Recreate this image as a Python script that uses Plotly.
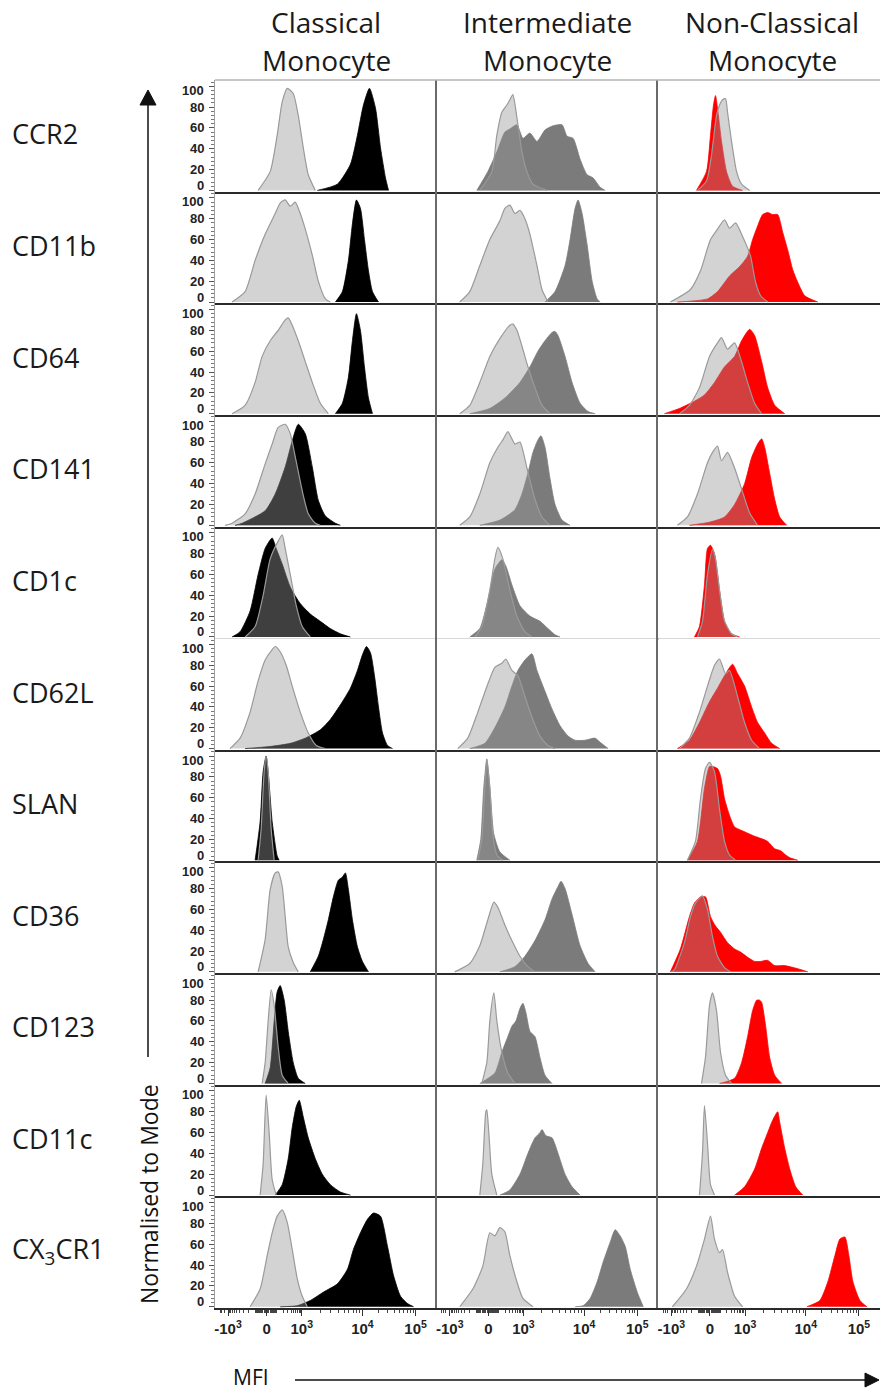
import math
import plotly.graph_objects as go
from plotly.subplots import make_subplots

# ---------------- text / categories ----------------
TITLE_LINE1 = ["Classical", "Intermediate", "Non-Classical"]
TITLE_LINE2 = ["Monocyte", "Monocyte", "Monocyte"]
MARKERS = ["CCR2", "CD11b", "CD64", "CD141", "CD1c", "CD62L", "SLAN",
           "CD36", "CD123", "CD11c", "CX<sub>3</sub>CR1"]
X_TICK_POS = [13, 51.5, 86.5, 147, 200]          # display channel of each label
X_TICK_TEXT = ["-10<sup>3</sup>", "0", "10<sup>3</sup>", "10<sup>4</sup>", "10<sup>5</sup>"]
Y_TICKS = [0, 20, 40, 60, 80, 100]
Y_LABEL = "Normalised to Mode"
X_LABEL = "MFI"

# ---------------- histograms: (display channel, % of mode) ----------------
# CCR2
CCR2_CM = [(102,0),(122,6),(135,25),(142,53),(148,82),(154,98),(160,79),(165,41),(170,12),(173,0)]
CCR2_CM_CTRL = [(43,0),(55,18),(62,53),(67,85),(72,98),(78,93),(83,72),(88,41),(93,15),(100,0)]
CCR2_IM = [(40,0),(51,18),(60,37),(68,56),(73,59),(80,63),(86,50),(93,55),(100,47),(108,58),(116,62),
           (125,63),(130,52),(136,50),(143,30),(150,15),(156,12),(163,3),(168,0)]
CCR2_IM_CTRL = [(43,0),(55,18),(60,53),(65,75),(70,82),(73,87),(76,92),(80,70),(85,37),(90,18),(96,6),(110,0)]
CCR2_NC = [(38,0),(48,18),(52,53),(55,82),(57,91),(59,79),(63,47),(68,18),(74,4),(84,0)]
CCR2_NC_CTRL = [(39,0),(48,9),(53,34),(58,72),(61,82),(64,87),(67,88),(69,75),(73,47),(78,18),(83,6),(91,0)]
# CD11b
CD11B_CM = [(120,0),(127,10),(133,40),(137,75),(141,98),(145,90),(149,60),(153,30),(157,10),(163,0)]
CD11B_CM_CTRL = [(17,0),(30,10),(40,40),(50,65),(60,85),(65,95),(70,98),(75,92),(80,96),(85,85),(90,70),
                 (97,45),(103,20),(110,3),(115,0)]
CD11B_IM = [(108,0),(118,10),(128,35),(133,60),(138,90),(141,98),(145,85),(150,55),(155,20),(160,3),(163,0)]
CD11B_IM_CTRL = [(23,0),(33,10),(43,35),(53,60),(63,78),(68,90),(73,93),(78,85),(83,88),(88,80),(93,65),
                 (100,35),(105,12),(111,0)]
CD11B_NC = [(19,0),(49,3),(59,10),(71,25),(81,34),(89,44),(94,60),(99,73),(104,84),(109,86),(114,84),
            (119,84),(124,67),(129,50),(134,31),(139,19),(146,6),(159,0)]
CD11B_NC_CTRL = [(12,0),(32,12),(42,30),(52,60),(59,70),(66,79),(71,71),(77,76),(84,63),(89,52),(92,44),
                 (97,19),(102,6),(109,0)]
# CD64
CD64_CM = [(120,0),(127,10),(133,35),(137,70),(141,96),(145,80),(149,45),(153,15),(157,0)]
CD64_CM_CTRL = [(17,0),(30,8),(40,30),(47,55),(55,70),(63,80),(70,90),(73,92),(77,85),(83,70),(90,50),
                (97,30),(105,10),(113,0)]
CD64_IM = [(33,0),(53,5),(68,15),(83,30),(93,45),(101,60),(108,70),(115,78),(118,79),(121,75),(128,55),
           (135,30),(143,10),(151,2),(158,0)]
CD64_IM_CTRL = [(23,0),(33,8),(43,30),(53,55),(63,72),(73,85),(76,86),(80,80),(85,65),(91,45),(98,25),
                (105,8),(113,0)]
CD64_NC = [(6,0),(21,5),(36,12),(46,18),(56,30),(66,45),(76,55),(83,70),(91,81),(96,75),(103,50),
           (109,25),(116,8),(126,0)]
CD64_NC_CTRL = [(21,0),(31,8),(41,25),(51,55),(59,68),(63,73),(69,62),(76,68),(83,50),(89,30),(96,10),(103,0)]
# CD141
CD141_CM = [(20,0),(27,2),(50,14),(60,30),(70,56),(77,81),(83,97),(90,88),(97,56),(103,24),(110,9),(120,2),(125,0)]
CD141_CM_CTRL = [(10,0),(17,2),(30,11),(40,30),(50,59),(57,78),(63,94),(70,97),(75,88),(80,66),(87,33),
                 (93,11),(100,2),(105,0)]
CD141_IM = [(43,0),(63,5),(78,15),(85,30),(91,50),(96,70),(101,82),(104,86),(108,75),(113,45),(118,20),(125,5),(133,0)]
CD141_IM_CTRL = [(23,0),(33,8),(43,30),(53,60),(61,75),(66,82),(71,90),(78,78),(83,80),(90,55),(98,25),(105,8),(113,0)]
CD141_NC = [(31,0),(51,3),(66,8),(76,20),(86,40),(93,65),(99,78),(103,83),(106,75),(111,50),(116,25),(121,8),(128,0)]
CD141_NC_CTRL = [(19,0),(29,8),(39,30),(49,60),(54,70),(59,76),(63,62),(69,70),(76,55),(83,35),(91,12),(99,0)]
# CD1c
CD1C_CM = [(17,0),(25,5),(35,25),(43,60),(50,85),(57,95),(61,85),(67,70),(75,48),(85,32),(95,22),(105,15),
           (115,8),(125,3),(135,0)]
CD1C_CM_CTRL = [(30,0),(40,10),(48,40),(55,75),(63,92),(67,98),(70,85),(75,60),(81,30),(87,10),(95,0)]
CD1C_IM = [(33,0),(43,8),(51,35),(58,65),(65,74),(69,68),(75,50),(83,30),(93,20),(103,15),(111,8),(118,2),(123,0)]
CD1C_IM_CTRL = [(38,0),(45,10),(53,45),(58,75),(61,86),(66,75),(73,45),(80,20),(88,5),(95,0)]
CD1C_NC = [(36,0),(41,10),(46,50),(49,85),(52,88),(56,80),(61,45),(66,15),(73,3),(81,0)]
CD1C_NC_CTRL = [(39,0),(44,15),(49,60),(54,84),(57,75),(61,45),(66,15),(73,3),(79,0)]
# CD62L
CD62L_CM = [(30,0),(55,2),(75,5),(90,10),(105,18),(115,28),(125,42),(135,58),(142,75),(147,90),(151,98),
            (155,92),(159,70),(163,40),(167,15),(172,3),(177,0)]
CD62L_CM_CTRL = [(15,0),(25,10),(35,35),(43,65),(50,85),(57,95),(60,98),(65,93),(71,80),(77,60),(85,35),
                 (93,15),(101,3),(110,0)]
CD62L_IM = [(33,0),(48,5),(58,20),(68,40),(75,60),(81,75),(88,85),(95,91),(100,75),(108,55),(115,38),
            (123,22),(131,12),(138,8),(148,8),(158,10),(163,6),(171,0)]
CD62L_IM_CTRL = [(21,0),(31,10),(41,35),(51,62),(58,78),(65,82),(69,86),(75,75),(81,70),(88,50),(95,30),
                 (103,12),(111,3),(118,0)]
CD62L_NC = [(19,0),(31,8),(41,25),(51,45),(59,58),(66,70),(74,81),(79,72),(86,60),(93,40),(99,25),(106,15),(113,5),(121,0)]
CD62L_NC_CTRL = [(21,0),(31,10),(41,35),(49,60),(56,80),(61,86),(67,72),(71,75),(79,50),(86,25),(93,8),(101,0)]
# SLAN
SLAN_CM = [(40,0),(45,37),(48,85),(51,100),(53,85),(57,37),(62,4),(64,0)]
SLAN_CM_CTRL = [(43,0),(46,30),(49,85),(51,100),(53,85),(56,30),(59,0)]
SLAN_IM = [(40,0),(44,20),(47,70),(50,97),(53,70),(57,25),(63,8),(73,0)]
SLAN_IM_CTRL = [(41,0),(45,20),(48,70),(50,97),(53,70),(56,25),(60,5),(66,0)]
SLAN_NC = [(29,0),(39,18),(46,69),(51,90),(54,90),(59,88),(62,81),(66,59),(71,43),(76,32),(82,29),(89,26),
           (96,23),(102,21),(109,18),(116,11),(122,9),(127,5),(132,2),(139,0)]
SLAN_NC_CTRL = [(29,0),(37,18),(42,59),(47,88),(51,94),(56,85),(61,49),(66,18),(71,5),(77,0)]
# CD36
CD36_CM = [(95,0),(103,15),(108,31),(113,50),(118,72),(123,88),(127,91),(130,95),(133,79),(137,50),
           (142,24),(147,10),(153,0)]
CD36_CM_CTRL = [(43,0),(50,31),(55,79),(60,95),(63,96),(67,82),(70,53),(73,24),(78,9),(83,0)]
CD36_IM = [(63,0),(78,5),(88,15),(98,30),(108,50),(115,70),(121,82),(124,87),(128,80),(135,55),(143,25),(151,8),(158,0)]
CD36_IM_CTRL = [(18,0),(33,8),(43,25),(51,50),(57,67),(61,62),(68,45),(75,30),(83,15),(91,5),(98,0)]
CD36_NC = [(12,0),(22,22),(31,53),(36,66),(42,72),(47,72),(52,53),(57,44),(62,38),(69,28),(76,22),(82,19),
           (89,14),(96,10),(102,10),(109,11),(116,6),(126,6),(139,3),(149,0)]
CD36_NC_CTRL = [(13,0),(16,2),(26,28),(32,53),(37,66),(44,73),(49,60),(54,34),(59,15),(66,4),(72,0)]
# CD123
CD123_CM = [(50,0),(55,15),(59,60),(62,88),(65,94),(69,80),(73,50),(78,20),(83,5),(90,0)]
CD123_CM_CTRL = [(47,0),(50,20),(53,60),(56,90),(59,75),(63,35),(67,8),(73,0)]
CD123_IM = [(43,0),(58,10),(65,30),(71,45),(75,55),(79,60),(83,72),(86,77),(89,68),(93,50),(98,45),
            (103,25),(108,8),(115,0)]
CD123_IM_CTRL = [(45,0),(50,20),(53,60),(57,87),(60,60),(65,30),(71,10),(78,0)]
CD123_NC = [(61,0),(76,5),(83,20),(89,45),(94,70),(98,80),(101,80),(103,78),(107,55),(111,25),(116,8),(123,0)]
CD123_NC_CTRL = [(43,0),(47,25),(51,75),(54,87),(58,70),(62,30),(67,8),(73,0)]
# CD11c
CD11C_CM = [(60,0),(67,10),(73,35),(77,65),(81,85),(84,91),(88,75),(93,55),(100,35),(107,20),(115,10),(125,3),(135,0)]
CD11C_CM_CTRL = [(45,0),(48,30),(51,96),(54,60),(57,15),(61,0)]
CD11C_IM = [(63,0),(73,5),(83,20),(91,40),(98,55),(103,60),(105,63),(109,57),(115,55),(121,40),(128,20),(135,8),(143,0)]
CD11C_IM_CTRL = [(43,0),(46,30),(49,80),(50,82),(52,60),(55,20),(60,0)]
CD11C_NC = [(76,0),(86,8),(96,25),(103,45),(109,60),(114,72),(119,80),(121,70),(126,45),(131,25),(137,8),(144,0)]
CD11C_NC_CTRL = [(41,0),(44,40),(46,86),(49,50),(52,10),(56,0)]
# CX3CR1
CX3CR1_CM = [(65,0),(82,1),(95,6),(108,14),(122,22),(132,36),(138,55),(145,71),(152,84),(158,90),(165,87),
             (172,58),(178,30),(185,10),(192,3),(198,0)]
CX3CR1_CM_CTRL = [(35,0),(45,17),(52,49),(57,71),(62,87),(67,93),(72,81),(77,55),(82,27),(87,10),(92,0)]
CX3CR1_IM = [(138,0),(146,1),(153,8),(160,24),(166,43),(173,62),(178,74),(183,68),(188,58),(193,36),(200,14),(206,0)]
CX3CR1_IM_CTRL = [(23,0),(36,17),(46,39),(53,71),(58,68),(63,76),(68,72),(73,49),(80,24),(86,8),(96,0)]
CX3CR1_NC = [(148,0),(161,6),(169,24),(176,49),(181,65),(186,67),(190,49),(194,24),(201,6),(208,0)]
CX3CR1_NC_CTRL = [(14,0),(28,17),(38,39),(46,65),(52,87),(56,65),(61,52),(64,55),(69,33),(76,10),(84,0)]

PANELS = [
    [(CCR2_CM, CCR2_CM_CTRL), (CCR2_IM, CCR2_IM_CTRL), (CCR2_NC, CCR2_NC_CTRL)],
    [(CD11B_CM, CD11B_CM_CTRL), (CD11B_IM, CD11B_IM_CTRL), (CD11B_NC, CD11B_NC_CTRL)],
    [(CD64_CM, CD64_CM_CTRL), (CD64_IM, CD64_IM_CTRL), (CD64_NC, CD64_NC_CTRL)],
    [(CD141_CM, CD141_CM_CTRL), (CD141_IM, CD141_IM_CTRL), (CD141_NC, CD141_NC_CTRL)],
    [(CD1C_CM, CD1C_CM_CTRL), (CD1C_IM, CD1C_IM_CTRL), (CD1C_NC, CD1C_NC_CTRL)],
    [(CD62L_CM, CD62L_CM_CTRL), (CD62L_IM, CD62L_IM_CTRL), (CD62L_NC, CD62L_NC_CTRL)],
    [(SLAN_CM, SLAN_CM_CTRL), (SLAN_IM, SLAN_IM_CTRL), (SLAN_NC, SLAN_NC_CTRL)],
    [(CD36_CM, CD36_CM_CTRL), (CD36_IM, CD36_IM_CTRL), (CD36_NC, CD36_NC_CTRL)],
    [(CD123_CM, CD123_CM_CTRL), (CD123_IM, CD123_IM_CTRL), (CD123_NC, CD123_NC_CTRL)],
    [(CD11C_CM, CD11C_CM_CTRL), (CD11C_IM, CD11C_IM_CTRL), (CD11C_NC, CD11C_NC_CTRL)],
    [(CX3CR1_CM, CX3CR1_CM_CTRL), (CX3CR1_IM, CX3CR1_IM_CTRL), (CX3CR1_NC, CX3CR1_NC_CTRL)],
]

# ---------------- styling ----------------
SAMPLE_FILL = ["#000000", "#7b7b7b", "#ff0000"]
CTRL_FILL = "rgba(151,151,151,0.42)"
CTRL_LINE = "#9a9a9a"
W, H = 880, 1393
L, R, T, B = 215, 0, 80, 85
NR, NC = len(MARKERS), 3
X_RANGE = [0, 221]
Y_RANGE = [-1.2, 106]
TEXT_FONT = "Open Sans"
TICK_FONT = "Liberation Sans"


def px(xp):
    return (xp - L) / (W - L - R)


def py(yp):
    return (H - B - yp) / (H - T - B)


fig = make_subplots(rows=NR, cols=NC, horizontal_spacing=0, vertical_spacing=0)

for r in range(NR):
    for c in range(NC):
        sample, ctrl = PANELS[r][c]
        fig.add_trace(go.Scatter(
            x=[p[0] for p in sample], y=[p[1] for p in sample], mode="lines",
            line=dict(color=SAMPLE_FILL[c], width=0.8, shape="spline", smoothing=0.6),
            fill="tozeroy", fillcolor=SAMPLE_FILL[c], hoverinfo="skip"), row=r + 1, col=c + 1)
        fig.add_trace(go.Scatter(
            x=[p[0] for p in ctrl], y=[p[1] for p in ctrl], mode="lines",
            line=dict(color=CTRL_LINE, width=1.2, shape="spline", smoothing=0.6),
            fill="tozeroy", fillcolor=CTRL_FILL, hoverinfo="skip"), row=r + 1, col=c + 1)

# minor x ticks (biexponential display)
minor_x = []
for k in range(2, 10):
    minor_x.append(X_TICK_POS[2] + (X_TICK_POS[3] - X_TICK_POS[2]) * math.log10(k))
    minor_x.append(X_TICK_POS[3] + (X_TICK_POS[4] - X_TICK_POS[3]) * math.log10(k))
for v in [10, 20, 30, 40, 50, 60, 70, 80, 90, 100, 200, 300, 400, 500, 600, 700, 800, 900]:
    f = math.asinh(v / 100) / math.asinh(10)
    minor_x.append(X_TICK_POS[1] + (X_TICK_POS[2] - X_TICK_POS[1]) * f)
    minor_x.append(X_TICK_POS[1] - (X_TICK_POS[1] - X_TICK_POS[0]) * f)
for k in range(2, 5):
    minor_x.append(X_TICK_POS[0] - 13 * math.log10(k))

annotations = []
for r in range(NR):
    for c in range(NC):
        bottom = (r == NR - 1)
        fig.update_xaxes(
            range=X_RANGE, showgrid=False, zeroline=False, fixedrange=True,
            showline=True, linecolor="#2a2a2a", linewidth=2,
            tickmode="array", tickvals=X_TICK_POS, ticktext=X_TICK_TEXT,
            ticks="outside" if bottom else "", ticklen=6, tickwidth=1.2, tickcolor="#333",
            showticklabels=bottom,
            tickfont=dict(family=TICK_FONT, size=15, color="#222", weight="bold"),
            minor=dict(tickmode="array", tickvals=minor_x, ticks="outside" if bottom else "",
                       ticklen=3, tickcolor="#444", tickwidth=1),
            row=r + 1, col=c + 1)
        if c == 0:
            fig.update_yaxes(
                range=Y_RANGE, showgrid=False, zeroline=False, fixedrange=True,
                showline=True, linecolor="#a0a0a0", linewidth=1.2,
                tickmode="array", tickvals=Y_TICKS, showticklabels=False,
                ticks="outside", ticklen=5, tickwidth=1.2, tickcolor="#555",
                minor=dict(dtick=4, tick0=0, ticks="outside", ticklen=3, tickcolor="#777", tickwidth=1),
                row=r + 1, col=c + 1)
            n = r * NC + c + 1
            yref = "y" if n == 1 else f"y{n}"
            for v in Y_TICKS:
                shift = -4 if v == 100 else (5 if v == 0 else 0)
                annotations.append(dict(x=px(206), y=v, xref="paper", yref=yref, text=str(v),
                                        showarrow=False, xanchor="right", yanchor="middle", yshift=shift,
                                        font=dict(family=TICK_FONT, size=13, color="#222", weight="bold")))
        else:
            fig.update_yaxes(
                range=Y_RANGE, showgrid=False, zeroline=False, fixedrange=True,
                showline=True, linecolor="#6a6a6a", linewidth=1.5,
                ticks="", showticklabels=False,
                row=r + 1, col=c + 1)

col_centers = [326, 547, 772]
for c in range(NC):
    annotations.append(dict(x=px(col_centers[c]), y=py(22), xref="paper", yref="paper",
                            text=TITLE_LINE1[c], showarrow=False, xanchor="center", yanchor="middle",
                            font=dict(family=TEXT_FONT, size=28, color="#1a1a1a")))
    annotations.append(dict(x=px(col_centers[c]), y=py(60), xref="paper", yref="paper",
                            text=TITLE_LINE2[c], showarrow=False, xanchor="center", yanchor="middle",
                            font=dict(family=TEXT_FONT, size=28, color="#1a1a1a")))
row_h = (H - T - B) / NR
for r in range(NR):
    yc = T + row_h * (r + 0.5) - 2
    annotations.append(dict(x=px(10), y=py(yc), xref="paper", yref="paper", text=MARKERS[r],
                            showarrow=False, xanchor="left", yanchor="middle",
                            font=dict(family=TEXT_FONT, size=27, color="#1a1a1a")))
annotations.append(dict(x=px(149), y=py(1194), xref="paper", yref="paper", text=Y_LABEL,
                        textangle=-90, showarrow=False, xanchor="center", yanchor="middle",
                        font=dict(family=TEXT_FONT, size=23, color="#111")))
annotations.append(dict(x=px(251), y=py(1377), xref="paper", yref="paper", text=X_LABEL,
                        showarrow=False, xanchor="center", yanchor="middle",
                        font=dict(family=TEXT_FONT, size=21, color="#111")))

shapes = [
    dict(type="line", xref="paper", yref="paper", x0=px(215), x1=px(880), y0=py(80), y1=py(80),
         line=dict(color="#b5b5b5", width=1.5)),
    dict(type="line", xref="paper", yref="paper", x0=px(148), x1=px(148), y0=py(1057), y1=py(103),
         line=dict(color="#111", width=1.5)),
    dict(type="path", xref="paper", yref="paper", fillcolor="#111", line=dict(color="#111", width=1),
         path=f"M {px(140)},{py(105)} L {px(156)},{py(105)} L {px(148)},{py(90)} Z"),
    dict(type="line", xref="paper", yref="paper", x0=px(295), x1=px(866), y0=py(1380), y1=py(1380),
         line=dict(color="#111", width=1.5)),
    dict(type="path", xref="paper", yref="paper", fillcolor="#111", line=dict(color="#111", width=1),
         path=f"M {px(865)},{py(1373)} L {px(865)},{py(1387)} L {px(879)},{py(1380)} Z"),
]

fig.update_layout(width=W, height=H, margin=dict(l=L, r=R, t=T, b=B, pad=0),
                  paper_bgcolor="white", plot_bgcolor="white", showlegend=False,
                  annotations=annotations, shapes=shapes)

fig.write_html("out.html", config={"displayModeBar": False},
               post_script="document.body.style.margin='0px';")
